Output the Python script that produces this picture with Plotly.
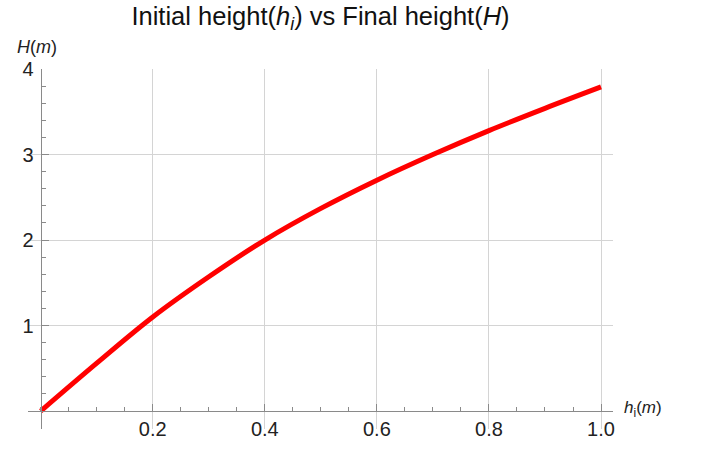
import plotly.graph_objects as go

h_initial = [0.0, 0.1, 0.2, 0.3, 0.4, 0.5, 0.6, 0.7, 0.8, 0.9, 1.0]
H_final = [0.0, 0.56, 1.10, 1.57, 2.00, 2.37, 2.70, 3.00, 3.28, 3.54, 3.79]

x_tickvals = [0.2, 0.4, 0.6, 0.8, 1.0]
x_ticktext = ["0.2", "0.4", "0.6", "0.8", "1.0"]
y_tickvals = [1, 2, 3, 4]
y_ticktext = ["1", "2", "3", "4"]

title_text = "Initial height(<i>h<sub>i</sub></i>) vs Final height(<i>H</i>)"
x_title = "<i>h</i><sub>i</sub>(<i>m</i>)"
y_title = "<i>H</i>(<i>m</i>)"

FONT = "Liberation Sans, Arial, sans-serif"
AXIS_COLOR = "#8a8a8a"
GRID_COLOR = "#d4d4d4"

x_range = [-0.0227, 1.0214]
y_range = [-0.21, 4.0]

fig = go.Figure()
fig.add_trace(go.Scatter(
    x=h_initial, y=H_final, mode="lines",
    line=dict(color="#ff0000", width=5, shape="spline", smoothing=1.0),
    showlegend=False, hoverinfo="skip",
))

fig.update_layout(
    width=703, height=450,
    margin=dict(l=28, r=90, t=69, b=21, autoexpand=False),
    paper_bgcolor="white", plot_bgcolor="white",
    font=dict(family=FONT, color="#222222"),
    title=dict(text=title_text, xref="paper", x=0.5, xanchor="center",
               yref="container", y=1 - 16 / 450, yanchor="middle",
               font=dict(size=25.5, family=FONT, color="#111111")),
    xaxis=dict(
        range=x_range, anchor="free", position=(0 - y_range[0]) / (y_range[1] - y_range[0]),
        automargin=False,
        tickmode="array", tickvals=x_tickvals, ticktext=x_ticktext,
        ticks="inside", ticklen=7, tickwidth=1, tickcolor=AXIS_COLOR,
        showline=True, linecolor=AXIS_COLOR, linewidth=1.3,
        showgrid=True, gridcolor=GRID_COLOR, gridwidth=1,
        zeroline=False,
        tickfont=dict(size=20, family=FONT, color="#222222"),
        minor=dict(ticks="inside", ticklen=4, tickcolor=AXIS_COLOR, dtick=0.05, tick0=0, showgrid=False),
    ),
    yaxis=dict(
        range=y_range, anchor="free", position=(0 - x_range[0]) / (x_range[1] - x_range[0]),
        automargin=False,
        tickmode="array", tickvals=y_tickvals, ticktext=y_ticktext,
        ticks="inside", ticklen=7, tickwidth=1, tickcolor=AXIS_COLOR,
        showline=True, linecolor=AXIS_COLOR, linewidth=1.3,
        showgrid=True, gridcolor=GRID_COLOR, gridwidth=1,
        zeroline=False, ticklabelstandoff=3,
        tickfont=dict(size=20, family=FONT, color="#222222"),
        minor=dict(ticks="inside", ticklen=4, tickcolor=AXIS_COLOR, dtick=0.2, tick0=0, showgrid=False),
    ),
    annotations=[
        dict(text=x_title, xref="paper", yref="y", x=1.015, y=0, xanchor="left", yanchor="middle",
             yshift=2, showarrow=False, font=dict(size=17, family=FONT, color="#222222")),
        dict(text=y_title, xref="x", yref="paper", x=0, y=1.0, xanchor="center", yanchor="bottom",
             xshift=-4, yshift=10, showarrow=False, font=dict(size=18, family=FONT, color="#222222")),
    ],
)

fig.write_html("out.html", config={"displayModeBar": False},
               post_script="document.body.style.margin='0';")
